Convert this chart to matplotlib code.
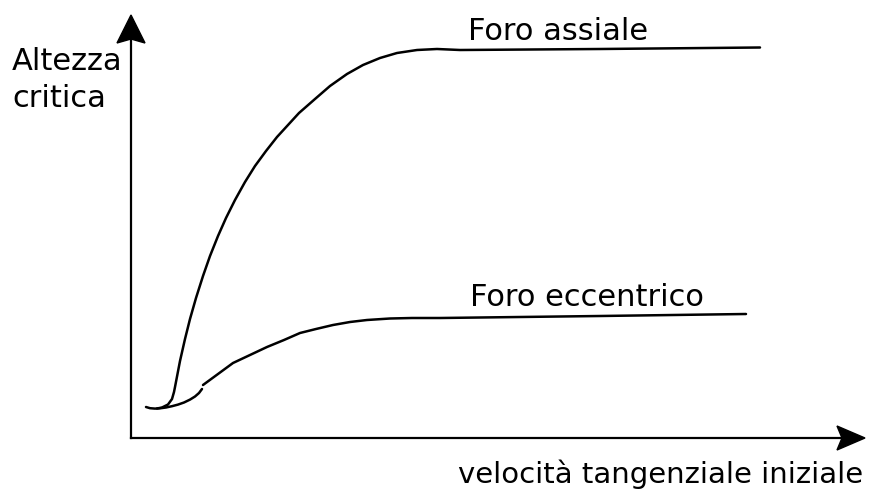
import matplotlib
matplotlib.use("Agg")
import matplotlib.pyplot as plt
from matplotlib.patches import Polygon

# sketch coordinates (pixel space, y pointing down)
assiale_x = [157, 162, 168, 172, 174, 175, 180, 185, 190, 196, 203, 210, 218, 226, 235, 245,
             255, 266, 277, 288, 299, 315, 330, 347, 363, 380, 397, 417, 437, 460, 600, 760]
assiale_y = [408.5, 407.5, 404.5, 399, 392, 387, 361, 339, 319, 298, 276, 256, 236, 218, 200, 182,
             166, 151, 137, 125, 113, 99, 86, 74, 65, 58, 53, 50, 49, 50, 49, 47.5]

base_x = [146, 150, 155, 160, 166, 172, 178, 184, 190, 195, 199, 202]
base_y = [407, 408.2, 408.6, 408.3, 407.5, 406.2, 404.6, 402.5, 399.6, 396.5, 393, 389]

eccentrico_x = [203, 218, 233, 250, 267, 284, 300, 316, 333, 350, 367, 390, 412, 440, 600, 746]
eccentrico_y = [385, 374, 363, 355, 347, 340, 333, 329, 325, 322, 320, 318.5, 318, 318, 316, 314]

labels = ["Foro assiale", "Foro eccentrico"]
label_pos = [(468, 40), (470, 306)]

origin = (131, 438)
y_tip = 15
x_tip = 865

fig = plt.figure(figsize=(8.78, 4.91), dpi=100)
ax = fig.add_axes([0, 0, 1, 1])
ax.set_xlim(0, 878)
ax.set_ylim(491, 0)
ax.axis("off")

# axes with arrow heads
ax.plot([origin[0], origin[0]], [origin[1], y_tip + 20], color="black", lw=1.6)
ax.plot([origin[0], x_tip - 20], [origin[1], origin[1]], color="black", lw=1.6)
ax.add_patch(Polygon([(origin[0], y_tip), (origin[0] - 14, y_tip + 28), (origin[0], y_tip + 24),
                      (origin[0] + 14, y_tip + 28)], closed=True, color="black"))
ax.add_patch(Polygon([(x_tip, origin[1]), (x_tip - 28, origin[1] - 12), (x_tip - 23, origin[1]),
                      (x_tip - 28, origin[1] + 12)], closed=True, color="black"))

style = dict(color="black", lw=1.8, solid_capstyle="round", solid_joinstyle="round")
ax.plot(assiale_x, assiale_y, **style)
ax.plot(base_x, base_y, **style)
ax.plot(eccentrico_x, eccentrico_y, **style)

for lab, (lx, ly) in zip(labels, label_pos):
    ax.text(lx, ly, lab, fontsize=22, ha="left", va="baseline")

ax.text(12, 70, "Altezza", fontsize=22, va="baseline")
ax.text(12, 107, "critica", fontsize=22, va="baseline")
ax.text(458, 483, "velocità tangenziale iniziale", fontsize=21, va="baseline")

fig.savefig("out.png", dpi=100)
